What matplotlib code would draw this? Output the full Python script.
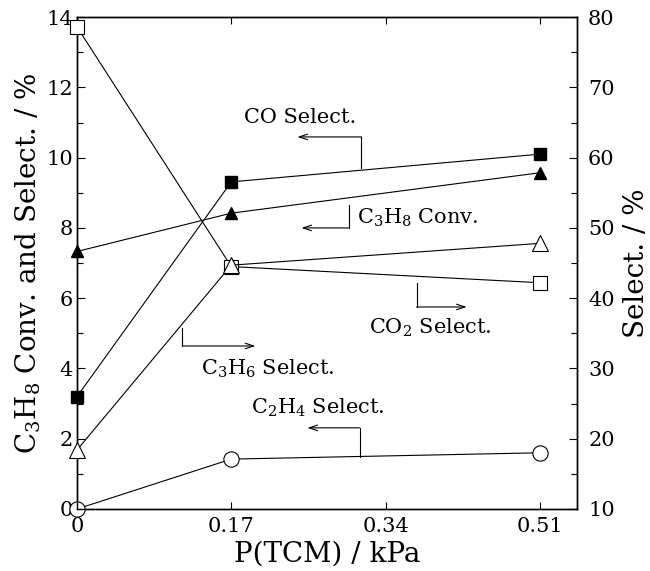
import matplotlib
matplotlib.use('Agg')
import matplotlib.pyplot as plt
from matplotlib.ticker import MultipleLocator

plt.rcParams['font.family'] = 'DejaVu Serif'
plt.rcParams['mathtext.fontset'] = 'dejavuserif'

# datos
p_tcm = [0, 0.17, 0.51]
co_sel = [3.2, 9.31, 10.1]            # eje izquierdo
c3h8_conv = [7.33, 8.42, 9.57]        # eje izquierdo
c2h4_sel = [0.0, 1.42, 1.6]           # eje izquierdo
co2_sel = [78.6, 44.5, 42.2]          # eje derecho
c3h6_sel = [18.4, 44.7, 47.8]         # eje derecho

x_ticks = [0, 0.17, 0.34, 0.51]
x_labels = ['0', '0.17', '0.34', '0.51']

fig = plt.figure(figsize=(6.5, 5.71), dpi=100)
ax = fig.add_axes([0.1185, 0.1086, 0.7692, 0.8614])
ax2 = ax.twinx()

lw = 0.8
ax.plot(p_tcm, co_sel, 'ks-', lw=lw, ms=9, clip_on=False, zorder=3)
ax.plot(p_tcm, c3h8_conv, 'k^-', lw=lw, ms=9, clip_on=False, zorder=3)
ax.plot(p_tcm, c2h4_sel, 'ko-', lw=lw, ms=11, mfc='white', mew=0.8, clip_on=False, zorder=3)
ax2.plot(p_tcm, co2_sel, 'ks-', lw=lw, ms=10, mfc='white', mew=0.8, clip_on=False, zorder=3)
ax2.plot(p_tcm, c3h6_sel, 'k^-', lw=lw, ms=11, mfc='white', mew=0.8, clip_on=False, zorder=3)

ax.set_xlim(0, 0.551)
ax.set_ylim(0, 14)
ax2.set_ylim(10, 80)

ax.set_xticks(x_ticks)
ax.set_xticklabels(x_labels)
ax.yaxis.set_major_locator(MultipleLocator(2))
ax.yaxis.set_minor_locator(MultipleLocator(1))
ax2.yaxis.set_major_locator(MultipleLocator(10))
ax2.yaxis.set_minor_locator(MultipleLocator(5))

ax.tick_params(axis='both', which='both', direction='in', top=True, labelsize=15, width=0.8)
ax.tick_params(axis='x', which='major', length=5, pad=6)
ax.tick_params(axis='y', which='major', length=6, pad=3)
ax.tick_params(axis='y', which='minor', length=4)
ax2.tick_params(axis='y', which='both', direction='in', labelsize=15, width=0.8, pad=8)
ax2.tick_params(axis='y', which='major', length=6)
ax2.tick_params(axis='y', which='minor', length=4)
for a in (ax, ax2):
    for s in a.spines.values():
        s.set_linewidth(1.0)

ax.set_xlabel('P(TCM) / kPa', fontsize=20, labelpad=3)
ax.set_ylabel(r'C$_3$H$_8$ Conv. and Select. / %', fontsize=20, labelpad=2)
ax2.set_ylabel('Select. / %', fontsize=20, labelpad=6)

# etiquetas con flechas
def flecha(x1, y1, y2, x3):
    ax.plot([x1, x1], [y1, y2], 'k-', lw=0.8)
    ax.annotate('', xy=(x3, y2), xytext=(x1, y2),
                arrowprops=dict(arrowstyle='->,head_length=0.6,head_width=0.2', lw=0.8, color='k',
                                shrinkA=0, shrinkB=0))

fs = 15
ax.text(0.1843, 11.13, 'CO Select.', fontsize=fs, va='center')
flecha(0.3135, 9.7, 10.59, 0.2429)
ax.text(0.308, 8.28, r'C$_3$H$_8$ Conv.', fontsize=fs, va='center')
flecha(0.2992, 8.65, 8.0, 0.2473)
ax.text(0.1369, 3.98, r'C$_3$H$_6$ Select.', fontsize=fs, va='center')
flecha(0.1159, 5.15, 4.64, 0.1965)
ax.text(0.3223, 5.15, r'CO$_2$ Select.', fontsize=fs, va='center')
flecha(0.3742, 6.43, 5.75, 0.4294)
ax.text(0.1921, 2.87, r'C$_2$H$_4$ Select.', fontsize=fs, va='center')
flecha(0.3113, 1.48, 2.31, 0.2539)

fig.savefig('out.png', dpi=100)
